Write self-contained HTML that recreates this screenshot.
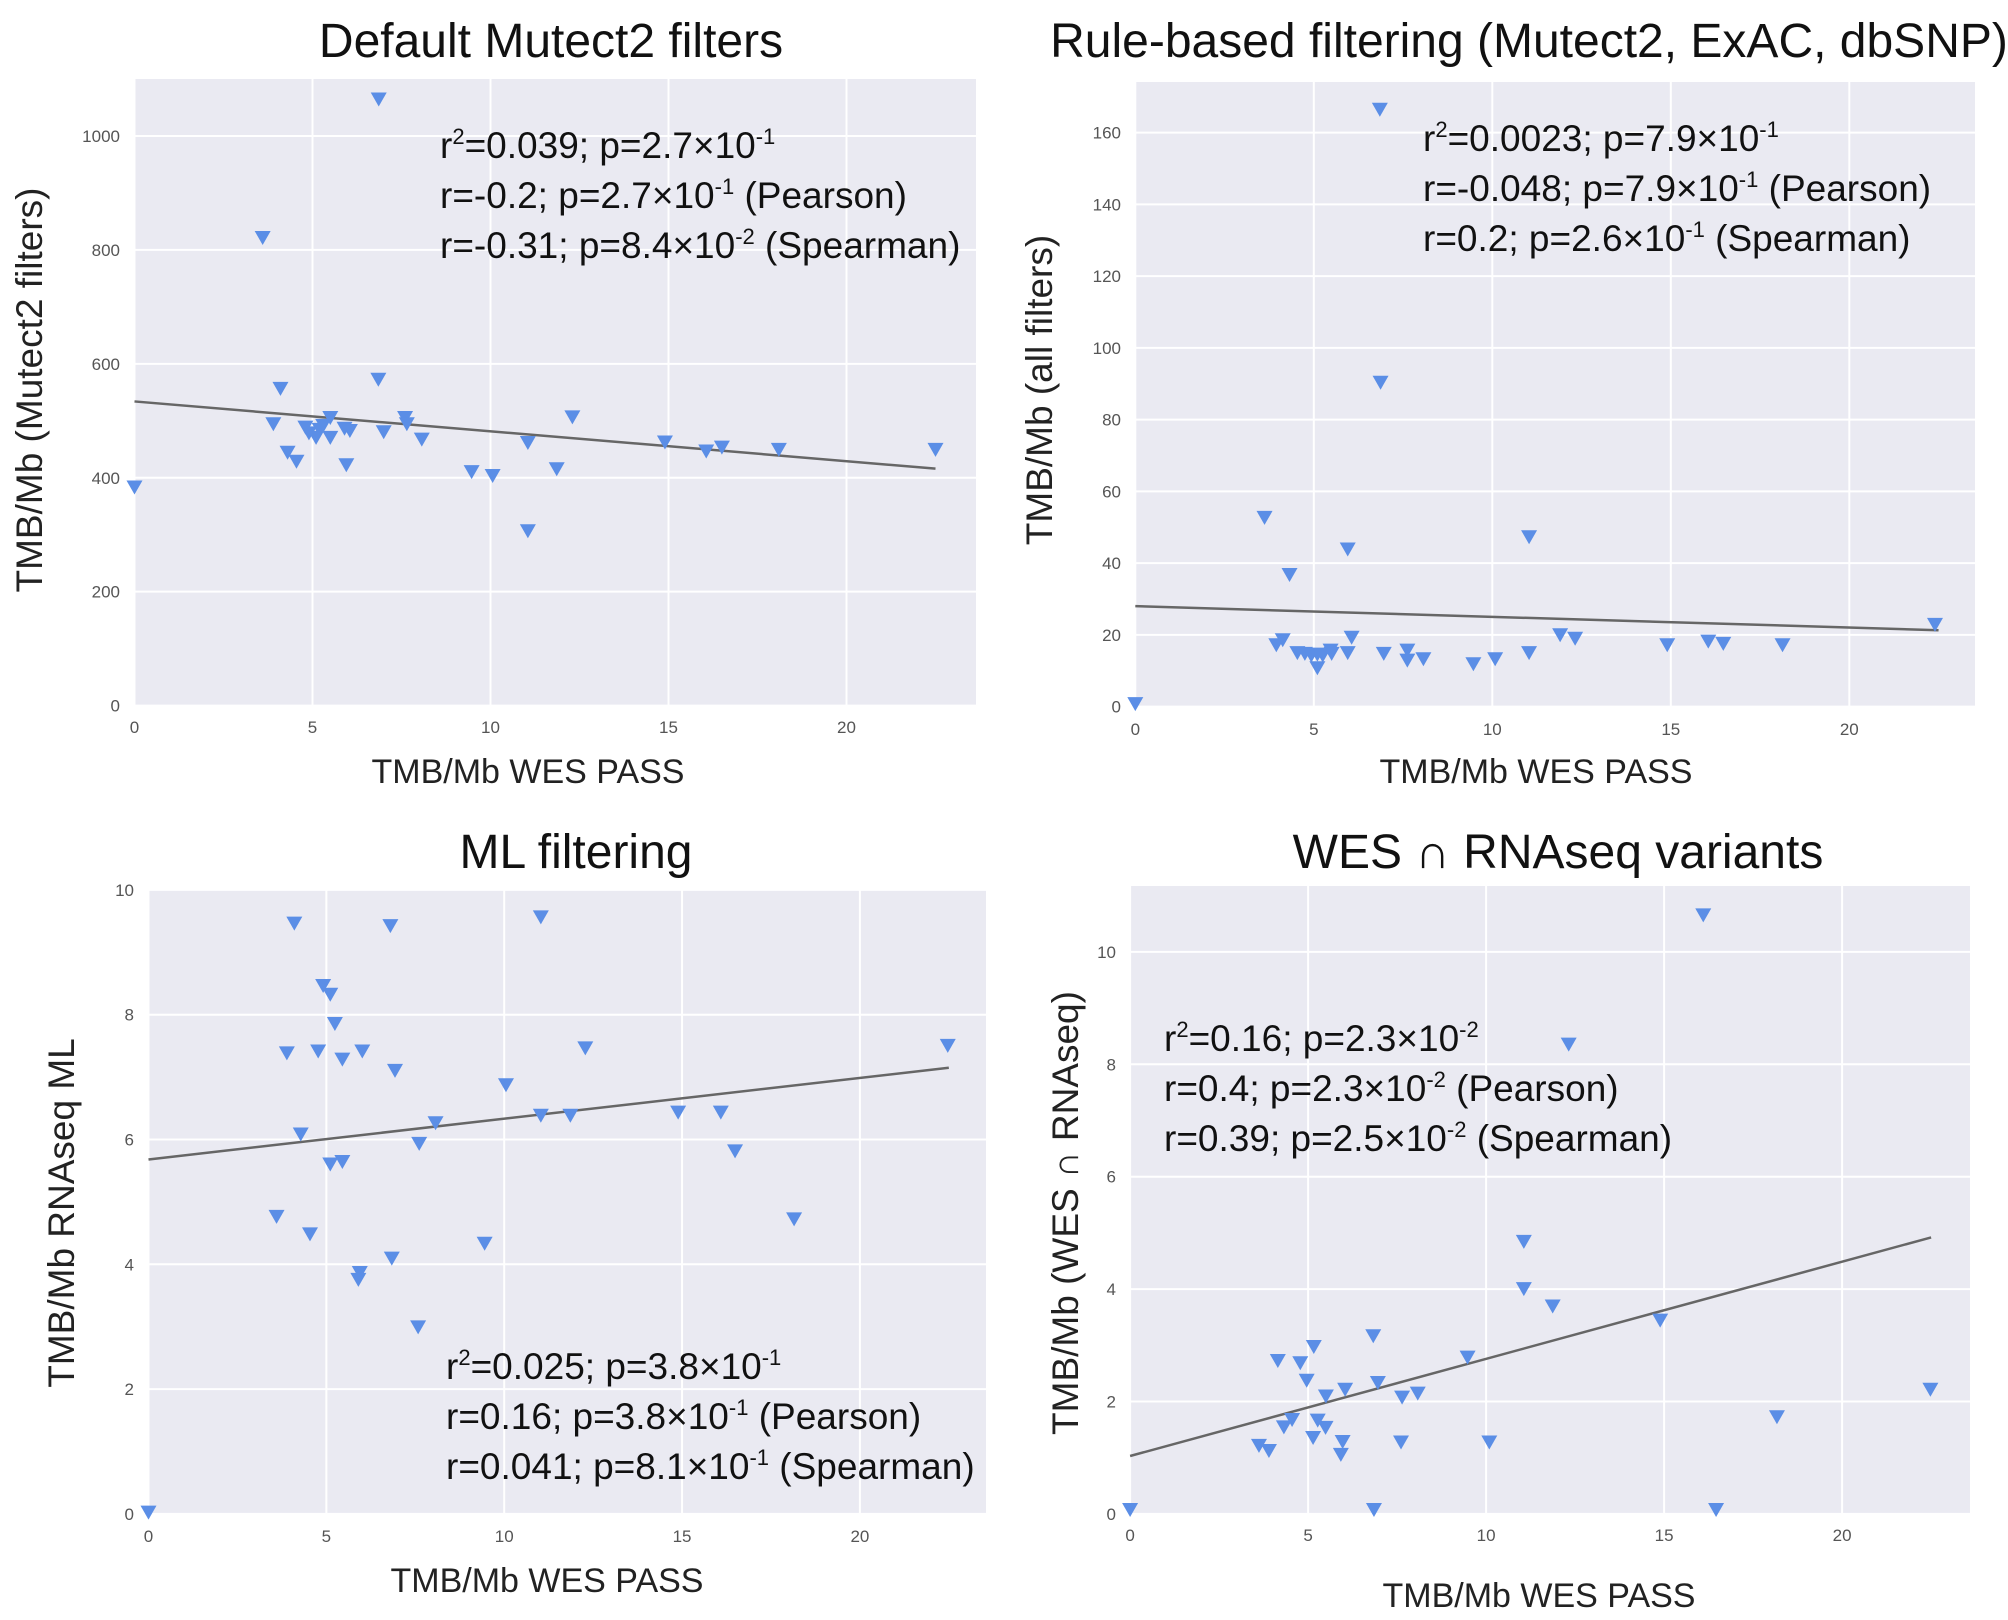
<!DOCTYPE html>
<html><head><meta charset="utf-8"><style>
body{margin:0;background:#fff;}
svg{display:block;font-family:"Liberation Sans",sans-serif;}
</style></head><body>
<svg id="fig" width="2008" height="1620" viewBox="0 0 2008 1620" xmlns="http://www.w3.org/2000/svg"></svg>
<script>
// Panel 1: Default Mutect2 filters
const p1X = [6.86,3.6,4.1,6.85,3.9,4.3,4.55,4.8,4.9,5.1,5.2,5.3,5.5,5.5,5.9,6.05,5.95,7.0,7.6,7.65,8.07,9.47,10.06,11.05,11.05,11.86,12.3,14.9,16.06,16.5,18.1,22.5,0];
const p1Y = [1064,821,556,572,494,444,428,488,478,470,484,491,505,470,486,482,422,480,505,494,467,410,403,461,306,415,506,462,446,453,449,449,383];
const p1Fit = [534,416];
const p1YTicks = [0,200,400,600,800,1000];
// Panel 2: Rule-based filtering
const p2X = [6.85,6.87,3.62,4.32,5.95,11.03,3.95,4.13,4.54,4.75,4.93,5.1,5.1,5.25,5.47,5.5,5.95,6.06,6.96,7.62,7.62,8.07,9.47,10.08,11.03,11.9,12.32,14.9,16.05,16.47,18.13,22.4,0];
const p2Y = [166.4,90.3,52.6,36.7,43.8,47.2,17.1,18.5,14.9,14.7,14.2,14.5,10.7,14.2,15.6,14.7,14.9,19.2,14.7,15.6,12.8,13.2,11.8,13.2,14.9,19.9,18.9,17.1,18.1,17.5,17.1,22.8,0.7];
const p2Fit = [28.0,21.3];
const p2YTicks = [0,20,40,60,80,100,120,140,160];
// Panel 3: ML filtering
const p3X = [4.1,6.8,11.03,4.91,5.11,5.24,3.89,4.77,5.45,6.01,6.93,10.05,12.28,22.47,4.28,5.11,5.45,7.61,8.07,11.03,11.86,14.89,16.09,16.49,3.6,4.54,6.84,9.45,5.94,5.9,7.58,18.15,0];
const p3Y = [9.46,9.42,9.56,8.46,8.32,7.85,7.38,7.41,7.28,7.41,7.10,6.87,7.46,7.50,6.08,5.6,5.64,5.93,6.26,6.38,6.38,6.43,6.43,5.81,4.76,4.48,4.09,4.33,3.86,3.75,2.99,4.72,0.02];
const p3Fit = [5.68,7.15];
const p3YTicks = [0,2,4,6,8,10];
// Panel 4: WES ∩ RNAseq
const p4X = [16.1,12.32,11.06,11.06,11.87,14.89,22.48,18.17,6.83,5.16,4.15,4.78,4.96,9.48,6.96,6.04,5.5,7.64,8.08,4.55,4.32,5.27,5.49,5.14,3.62,3.9,5.97,5.92,7.61,10.09,0,6.85,16.46];
const p4Y = [10.65,8.35,4.84,4.0,3.69,3.44,2.21,1.72,3.16,2.97,2.72,2.68,2.37,2.78,2.33,2.21,2.09,2.07,2.14,1.67,1.54,1.66,1.53,1.35,1.21,1.12,1.28,1.05,1.27,1.27,0.07,0.07,0.07];
const p4Fit = [1.03,4.92];
const p4YTicks = [0,2,4,6,8,10];
const xTicks = [0,5,10,15,20];
const fitX = [0,22.5];

const NS="http://www.w3.org/2000/svg";
const svg=document.getElementById('fig');
function mk(tag,attrs,parent){const e=document.createElementNS(NS,tag);for(const k in attrs)e.setAttribute(k,attrs[k]);(parent||svg).appendChild(e);return e;}

function panel(cfg){
  const g=mk('g',{});
  
  
  const L=cfg.left,R=cfg.right,T=cfg.top,B=cfg.bottom;
  const sx=v=>cfg.x0+(v)*cfg.xs;
  const sy=v=>cfg.y0-(v)*cfg.ys;
  const bg=mk('rect',{x:L,y:T,width:R-L,height:B-T,fill:'#eaeaf2'},g);
  
  
  xTicks.forEach(v=>{
    const x=sx(v);
    const gl=mk('line',{x1:x,x2:x,y1:T,y2:B,stroke:'#fff','stroke-width':2},g);
    
    
    const tl=mk('text',{x:x,y:B+28,'text-anchor':'middle','font-size':17,fill:'#555'},g);
    tl.textContent=v;
    
    
  });
  cfg.yTicks.forEach(v=>{
    const y=sy(v);
    const gl=mk('line',{x1:L,x2:R,y1:y,y2:y,stroke:'#fff','stroke-width':2},g);
    
    
    const tl=mk('text',{x:L-14,y:y+6,'text-anchor':'end','font-size':17,fill:'#555'},g);
    tl.textContent=v;
    
    
  });
  const fl=mk('line',{x1:sx(fitX[0]),y1:sy(cfg.fit[0]),x2:sx(fitX[1]),y2:sy(cfg.fit[1]),stroke:'#666','stroke-width':2.5},g);
  
  
  cfg.xs_data.forEach((xv,i)=>{
    const x=sx(xv),y=sy(cfg.ys_data[i]);
    const p=mk('path',{d:`M${x-8},${y-7} L${x+8},${y-7} L${x},${y+7} Z`,fill:'#5b8ee6'},g);
    
    
  });
  const tt=mk('text',{x:cfg.title[1],y:cfg.title[2],'text-anchor':'middle','font-size':48,fill:'#111'},g);
  tt.textContent=cfg.title[0];
  
  
  const xl=mk('text',{x:cfg.xl[0],y:cfg.xl[1],'text-anchor':'middle','font-size':34,fill:'#222'},g);
  xl.textContent='TMB/Mb WES PASS';
  
  
  const yl=mk('text',{x:0,y:0,'text-anchor':'middle','font-size':37,fill:'#222',transform:`translate(${cfg.yl[1]},${cfg.yl[2]}) rotate(-90)`},g);
  yl.textContent=cfg.yl[0];
  
  
  cfg.stats.forEach((s,i)=>{
    const st=mk('text',{x:cfg.sx,y:cfg.sy+i*50,'font-size':37,fill:'#111'},g);
    st.innerHTML=s;
    
    
  });
}
const sup=s=>`<tspan dy="-14" font-size="22">${s}</tspan><tspan dy="14"> </tspan>`;
const sp=(a,b,c)=>`${a}<tspan dy="-14" font-size="22">${b}</tspan><tspan dy="14">${c}</tspan>`;
panel({name:'panel-default-mutect2',left:134,right:976,top:79,bottom:705,x0:134.5,xs:35.6,y0:705.6,ys:0.5696,yTicks:p1YTicks,fit:p1Fit,xs_data:p1X,ys_data:p1Y,
 title:['Default Mutect2 filters',551,57],xl:[528,783],yl:['TMB/Mb (Mutect2 filters)',42,390],sx:440,sy:158,
 stats:[sp('r','2','=0.039; p=2.7×10')+sup('-1'),
        sp('r=-0.2; p=2.7×10','-1',' (Pearson)'),
        sp('r=-0.31; p=8.4×10','-2',' (Spearman)')]});
panel({name:'panel-rule-based',left:1135,right:1975,top:82,bottom:707,x0:1135.3,xs:35.7,y0:706.6,ys:3.587,yTicks:p2YTicks,fit:p2Fit,xs_data:p2X,ys_data:p2Y,
 title:['Rule-based filtering (Mutect2, ExAC, dbSNP)',1529,57],xl:[1536,783],yl:['TMB/Mb (all filters)',1052,390],sx:1423,sy:151,
 stats:[sp('r','2','=0.0023; p=7.9×10')+sup('-1'),
        sp('r=-0.048; p=7.9×10','-1',' (Pearson)'),
        sp('r=0.2; p=2.6×10','-1',' (Spearman)')]});
panel({name:'panel-ml-filtering',left:148,right:986,top:890,bottom:1514,x0:148.5,xs:35.57,y0:1513.9,ys:62.4,yTicks:p3YTicks,fit:p3Fit,xs_data:p3X,ys_data:p3Y,
 title:['ML filtering',576,868],xl:[547,1592],yl:['TMB/Mb RNAseq ML',74,1213],sx:446,sy:1379,
 stats:[sp('r','2','=0.025; p=3.8×10')+sup('-1'),
        sp('r=0.16; p=3.8×10','-1',' (Pearson)'),
        sp('r=0.041; p=8.1×10','-1',' (Spearman)')]});
panel({name:'panel-wes-rnaseq',left:1130,right:1970,top:886,bottom:1513,x0:1130.1,xs:35.6,y0:1513.9,ys:56.2,yTicks:p4YTicks,fit:p4Fit,xs_data:p4X,ys_data:p4Y,
 title:['WES ∩ RNAseq variants',1558,868],xl:[1539,1607],yl:['TMB/Mb (WES ∩ RNAseq)',1078,1213],sx:1164,sy:1051,
 stats:[sp('r','2','=0.16; p=2.3×10')+sup('-2'),
        sp('r=0.4; p=2.3×10','-2',' (Pearson)'),
        sp('r=0.39; p=2.5×10','-2',' (Spearman)')]});
</script>
</body></html>
